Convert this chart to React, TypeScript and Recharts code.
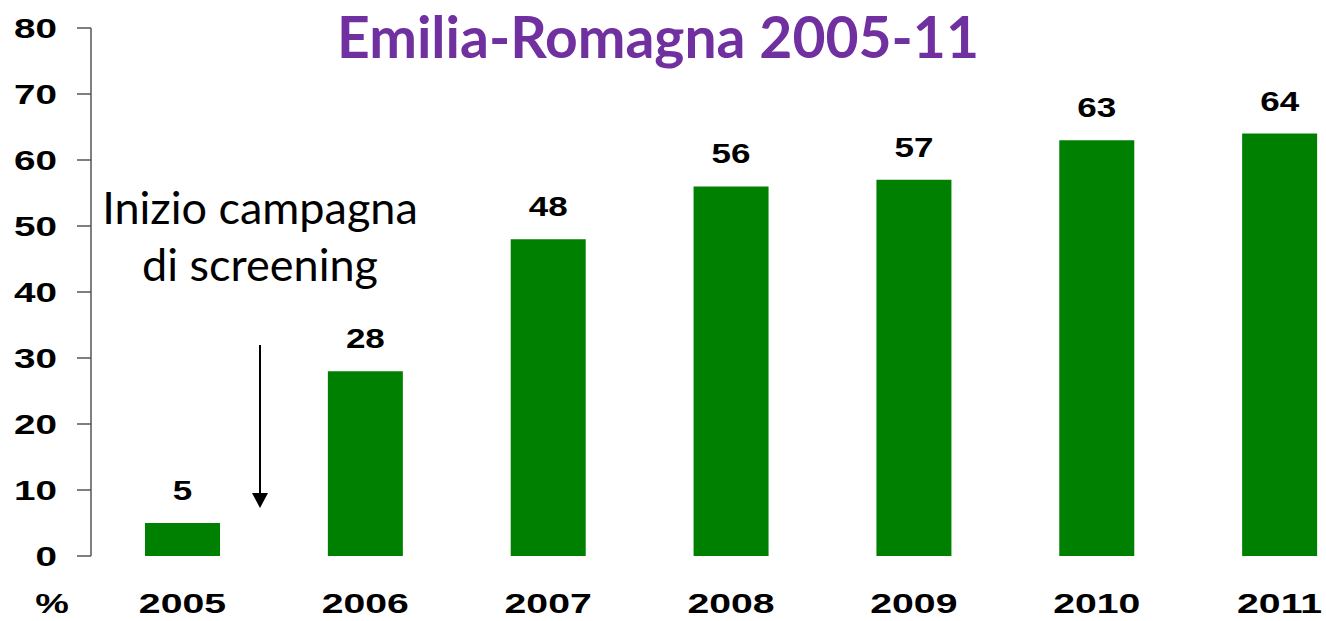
import React from 'react';
import { BarChart, Bar, XAxis, YAxis, LabelList } from 'recharts';

const years = ['2005', '2006', '2007', '2008', '2009', '2010', '2011'];
const values = [5, 28, 48, 56, 57, 63, 64];
const yTicks = [0, 10, 20, 30, 40, 50, 60, 70, 80];

const data = years.map((year, i) => ({ year, value: values[i] }));

const BOLD = '"Liberation Sans", Arial, sans-serif';

const YTick = (props: any) => {
  const { y, payload } = props;
  return (
    <g transform={`translate(57,${y + 10})`}>
      <text transform="scale(1.38,1)" textAnchor="end" fontFamily={BOLD} fontWeight="bold" fontSize={28} fill="#000">
        {payload.value}
      </text>
    </g>
  );
};

const XTick = (props: any) => {
  const { x, payload } = props;
  return (
    <g transform={`translate(${x},613)`}>
      <text transform="scale(1.4,1)" textAnchor="middle" fontFamily={BOLD} fontWeight="bold" fontSize={28} fill="#000">
        {payload.value}
      </text>
    </g>
  );
};

const ValueLabel = (props: any) => {
  const { x, y, width, value } = props;
  return (
    <g transform={`translate(${Number(x) + Number(width) / 2},${Number(y) - 23})`}>
      <text transform="scale(1.25,1)" textAnchor="middle" fontFamily={BOLD} fontWeight="bold" fontSize={28} fill="#000">
        {value}
      </text>
    </g>
  );
};

export default function App() {
  return (
    <div style={{ position: 'fixed', left: 0, top: 0, width: 1326, height: 621, overflow: 'hidden', background: '#fff' }}>
      <BarChart width={1400} height={621} data={data} margin={{ top: 28, right: 29, left: 0, bottom: 0 }}>
        <XAxis dataKey="year" axisLine={false} tickLine={false} tickSize={0} height={65} tick={<XTick />} interval={0} />
        <YAxis
          domain={[0, 80]}
          ticks={yTicks}
          width={91}
          tickSize={14}
          axisLine={{ stroke: '#555', strokeWidth: 1.5 }}
          tickLine={{ stroke: '#555', strokeWidth: 1.5 }}
          tick={<YTick />}
          interval={0}
        />
        <Bar dataKey="value" fill="#008000" barSize={75} isAnimationActive={false}>
          <LabelList dataKey="value" content={<ValueLabel />} />
        </Bar>
      </BarChart>
      <svg width={1326} height={621} style={{ position: 'absolute', left: 0, top: 0, pointerEvents: 'none' }}>
        <text x={658} y={58} textAnchor="middle" fontFamily="Lato, sans-serif" fontWeight="bold" fontSize={57} fill="#7030A0">
          Emilia-Romagna 2005-11
        </text>
        <text x={260} y={224} textAnchor="middle" fontFamily="Lato, sans-serif" fontSize={45} fill="#000">
          Inizio campagna
        </text>
        <text x={260} y={281} textAnchor="middle" fontFamily="Lato, sans-serif" fontSize={45} fill="#000">
          di screening
        </text>
        <line x1={260} y1={345} x2={260} y2={494} stroke="#000" strokeWidth={2} />
        <polygon points="252,493 268,493 260,508" fill="#000" />
        <g transform="translate(52,613)">
          <text transform="scale(1.35,1)" textAnchor="middle" fontFamily={BOLD} fontWeight="bold" fontSize={28} fill="#000">
            %
          </text>
        </g>
      </svg>
    </div>
  );
}
